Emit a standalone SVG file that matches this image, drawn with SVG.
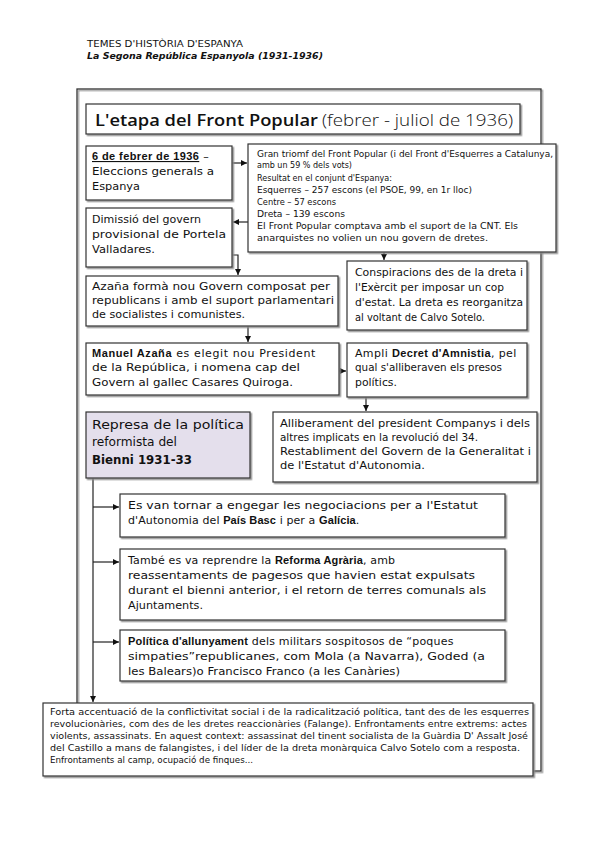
<svg xmlns="http://www.w3.org/2000/svg" width="599" height="848" viewBox="0 0 599 848">
<style>
.bx{fill:#fff;stroke:#333;stroke-width:1.2;filter:url(#sh)}
.lav{fill:#e4dfec}
.t{font-family:"DejaVu Sans","Liberation Sans",sans-serif;fill:#111;font-size:11px}
.s{font-size:8.4px}
.m{font-size:12.5px}
.b{font-weight:bold}
.bl{font-family:"Liberation Sans",Arial,sans-serif;font-weight:bold}
.u{text-decoration:underline}
.ln{fill:none;stroke:#222;stroke-width:1.2}
</style>
<defs>
<filter id="sh" x="-5%" y="-5%" width="110%" height="115%">
<feDropShadow dx="1.5" dy="1.5" stdDeviation="0.4" flood-color="#888" flood-opacity="0.9"/>
</filter>
<marker id="ar" markerWidth="7" markerHeight="7" refX="6" refY="3" orient="auto" markerUnits="userSpaceOnUse">
<path d="M0,0 L6,3 L0,6 z" fill="#111"/>
</marker>
</defs>
<rect width="599" height="848" fill="#fff"/>

<g id="header">
<text class="t" x="87" y="47" style="font-size:9px" textLength="156" lengthAdjust="spacingAndGlyphs">TEMES D'HISTÒRIA D'ESPANYA</text>
<text class="t b" x="87" y="59" style="font-size:9.5px;font-style:italic" textLength="236" lengthAdjust="spacingAndGlyphs">La Segona República Espanyola (1931-1936)</text>
</g>

<rect id="frame" x="77" y="89" width="464" height="682" fill="none" stroke="#333" stroke-width="1.3" filter="url(#sh)"/>

<g id="connectors">
<path class="ln" d="M232,163 H247" marker-end="url(#ar)"/>
<path class="ln" d="M248,222 H233" marker-end="url(#ar)"/>
<path class="ln" d="M232,255 H238 V275" marker-end="url(#ar)"/>
<path class="ln" d="M384,252 V260" marker-end="url(#ar)"/>
<path class="ln" d="M248,326 V342" marker-end="url(#ar)"/>
<path class="ln" d="M339,371 H346" marker-end="url(#ar)"/>
<path class="ln" d="M366,397 V411" marker-end="url(#ar)"/>
<path class="ln" d="M93,478 V702" marker-end="url(#ar)"/>
<path class="ln" d="M93,507 H119" marker-end="url(#ar)"/>
<path class="ln" d="M93,562 H119" marker-end="url(#ar)"/>
<path class="ln" d="M93,642 H119" marker-end="url(#ar)"/>
</g>

<g id="title">
<rect class="bx" x="86" y="104" width="434" height="30"/>
<text x="95" y="126" style="font-family:'Open Sans','DejaVu Sans',sans-serif;font-size:17px;fill:#111;font-weight:600" textLength="223" lengthAdjust="spacingAndGlyphs">L'etapa del Front Popular</text>
<text x="322" y="126" style="font-family:'Open Sans','DejaVu Sans',sans-serif;font-size:17px;fill:#111;font-weight:300" textLength="191" lengthAdjust="spacingAndGlyphs">(febrer - juliol de 1936)</text>
</g>

<g id="n-eleccions">
<rect class="bx" x="86" y="146" width="146" height="54"/>
<text class="t" x="92" y="160" style="letter-spacing:0.4px"><tspan class="bl u">6 de febrer de 1936</tspan> –</text>
<text class="t" x="92" y="175" textLength="122" lengthAdjust="spacingAndGlyphs">Eleccions generals a</text>
<text class="t" x="92" y="190" textLength="48" lengthAdjust="spacingAndGlyphs">Espanya</text>
</g>

<g id="n-triomf">
<rect class="bx" x="248" y="144" width="308" height="108"/>
<text class="t s" x="257" y="157" textLength="296" lengthAdjust="spacingAndGlyphs">Gran triomf del Front Popular (i del Front d'Esquerres a Catalunya,</text>
<text class="t s" x="257" y="168" textLength="95" lengthAdjust="spacingAndGlyphs">amb un 59 % dels vots)</text>
<text class="t s" x="257" y="181" textLength="135" lengthAdjust="spacingAndGlyphs">Resultat en el conjunt d'Espanya:</text>
<text class="t s" x="257" y="193" textLength="215" lengthAdjust="spacingAndGlyphs">Esquerres – 257 escons (el PSOE, 99, en 1r lloc)</text>
<text class="t s" x="257" y="205" textLength="79" lengthAdjust="spacingAndGlyphs">Centre – 57 escons</text>
<text class="t s" x="257" y="217" textLength="88" lengthAdjust="spacingAndGlyphs">Dreta – 139 escons</text>
<text class="t s" x="257" y="229" textLength="261" lengthAdjust="spacingAndGlyphs">El Front Popular comptava amb el suport de la CNT.  Els</text>
<text class="t s" x="257" y="241" textLength="231" lengthAdjust="spacingAndGlyphs">anarquistes no volien un nou govern de dretes.</text>
</g>

<g id="n-dimissio">
<rect class="bx" x="86" y="208" width="146" height="59"/>
<text class="t" x="92" y="223" textLength="109" lengthAdjust="spacingAndGlyphs">Dimissió del govern</text>
<text class="t" x="92" y="238" textLength="134" lengthAdjust="spacingAndGlyphs">provisional de Portela</text>
<text class="t" x="92" y="253" textLength="63" lengthAdjust="spacingAndGlyphs">Valladares.</text>
</g>

<g id="n-govern">
<rect class="bx" x="86" y="276" width="252" height="50"/>
<text class="t" x="92" y="290" textLength="238" lengthAdjust="spacingAndGlyphs">Azaña formà nou Govern composat per</text>
<text class="t" x="92" y="304" textLength="242" lengthAdjust="spacingAndGlyphs">republicans i amb el suport parlamentari</text>
<text class="t" x="92" y="318" textLength="153" lengthAdjust="spacingAndGlyphs">de socialistes i comunistes.</text>
</g>

<g id="n-conspiracions">
<rect class="bx" x="347" y="261" width="180" height="69"/>
<text class="t" x="355" y="276" textLength="168" lengthAdjust="spacingAndGlyphs">Conspiracions des de la dreta i</text>
<text class="t" x="355" y="291" textLength="149" lengthAdjust="spacingAndGlyphs">l'Exèrcit per imposar un cop</text>
<text class="t" x="355" y="306" textLength="168" lengthAdjust="spacingAndGlyphs">d'estat. La dreta es reorganitza</text>
<text class="t" x="355" y="321" textLength="130" lengthAdjust="spacingAndGlyphs">al voltant de Calvo Sotelo.</text>
</g>

<g id="n-president">
<rect class="bx" x="86" y="343" width="253" height="52"/>
<text class="t" x="92" y="357" style="letter-spacing:0.6px"><tspan class="bl">Manuel Azaña</tspan> es elegit nou President</text>
<text class="t" x="92" y="371" textLength="208" lengthAdjust="spacingAndGlyphs">de la República, i nomena cap del</text>
<text class="t" x="92" y="386" textLength="201" lengthAdjust="spacingAndGlyphs">Govern al gallec Casares Quiroga.</text>
</g>

<g id="n-amnistia">
<rect class="bx" x="347" y="343" width="180" height="54"/>
<text class="t" x="355" y="357" style="letter-spacing:0.35px">Ampli <tspan class="bl">Decret d'Amnistia</tspan>, pel</text>
<text class="t" x="355" y="371" textLength="147" lengthAdjust="spacingAndGlyphs">qual s'alliberaven els presos</text>
<text class="t" x="355" y="386" textLength="42" lengthAdjust="spacingAndGlyphs">polítics.</text>
</g>

<g id="n-represa">
<rect class="bx lav" x="86" y="412" width="164" height="66"/>
<text class="t m" x="92" y="429" textLength="152" lengthAdjust="spacingAndGlyphs">Represa de la política</text>
<text class="t m" x="92" y="446" textLength="85" lengthAdjust="spacingAndGlyphs">reformista del</text>
<text class="t m b" x="92" y="464" textLength="100" lengthAdjust="spacingAndGlyphs">Bienni 1931-33</text>
</g>

<g id="n-alliberament">
<rect class="bx" x="273" y="412" width="264" height="70"/>
<text class="t" x="280" y="427" textLength="250" lengthAdjust="spacingAndGlyphs">Alliberament del president Companys i dels</text>
<text class="t" x="280" y="441" textLength="198" lengthAdjust="spacingAndGlyphs">altres implicats en la revolució del 34.</text>
<text class="t" x="280" y="455" textLength="251" lengthAdjust="spacingAndGlyphs">Restabliment del Govern de la  Generalitat i</text>
<text class="t" x="280" y="469" textLength="145" lengthAdjust="spacingAndGlyphs">de l'Estatut d'Autonomia.</text>
</g>

<g id="n-estatut">
<rect class="bx" x="120" y="494" width="385" height="43"/>
<text class="t" x="128" y="509" textLength="350" lengthAdjust="spacingAndGlyphs">Es van tornar a engegar les negociacions per a l'Estatut</text>
<text class="t" x="128" y="524" style="letter-spacing:0.1px">d'Autonomia del <tspan class="bl">País Basc</tspan> i per a <tspan class="bl">Galícia</tspan>.</text>
</g>

<g id="n-agraria">
<rect class="bx" x="120" y="549" width="385" height="71"/>
<text class="t" x="128" y="564" style="letter-spacing:0.15px">També es va reprendre la <tspan class="bl">Reforma Agrària</tspan>, amb</text>
<text class="t" x="128" y="579" textLength="347" lengthAdjust="spacingAndGlyphs">reassentaments de pagesos que havien estat expulsats</text>
<text class="t" x="128" y="594" textLength="358" lengthAdjust="spacingAndGlyphs">durant el bienni anterior, i el retorn de terres comunals als</text>
<text class="t" x="128" y="609" textLength="75" lengthAdjust="spacingAndGlyphs">Ajuntaments.</text>
</g>

<g id="n-allunyament">
<rect class="bx" x="120" y="630" width="385" height="51"/>
<text class="t" x="128" y="645" style="letter-spacing:0.2px"><tspan class="bl">Política d'allunyament</tspan> dels militars sospitosos de “poques</text>
<text class="t" x="128" y="660" textLength="357" lengthAdjust="spacingAndGlyphs">simpaties”republicanes, com Mola (a Navarra), Goded (a</text>
<text class="t" x="128" y="675" textLength="272" lengthAdjust="spacingAndGlyphs">les Balears)o Francisco Franco (a les Canàries)</text>
</g>

<g id="n-conflictivitat">
<rect class="bx" x="43" y="703" width="490" height="73"/>
<text class="t s" x="50" y="715" textLength="479" lengthAdjust="spacingAndGlyphs">Forta accentuació de la conflictivitat social i de la radicalització política, tant des de les esquerres</text>
<text class="t s" x="50" y="727" textLength="477" lengthAdjust="spacingAndGlyphs">revolucionàries, com des de les dretes reaccionàries  (Falange). Enfrontaments entre extrems: actes</text>
<text class="t s" x="50" y="739" textLength="478" lengthAdjust="spacingAndGlyphs">violents, assassinats. En aquest context: assassinat del  tinent socialista de la Guàrdia D' Assalt José</text>
<text class="t s" x="50" y="751" textLength="470" lengthAdjust="spacingAndGlyphs">del Castillo a mans de falangistes, i del líder de la dreta monàrquica Calvo Sotelo com a resposta.</text>
<text class="t s" x="50" y="763" textLength="203" lengthAdjust="spacingAndGlyphs">Enfrontaments al camp, ocupació de finques...</text>
</g>
</svg>
